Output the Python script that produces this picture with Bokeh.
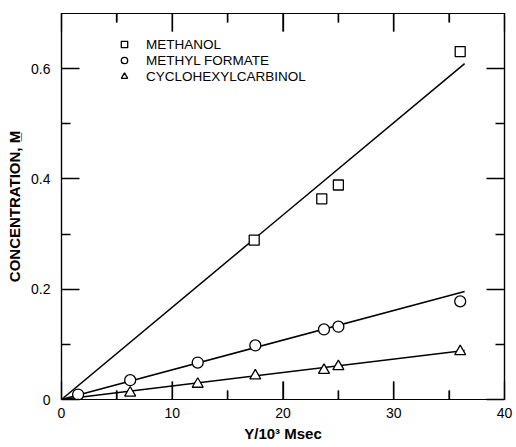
from bokeh.plotting import figure
from bokeh.models import FixedTicker, LinearAxis, Range1d, Legend, LegendItem
from bokeh.embed import file_html
from bokeh.resources import INLINE

# ---- data ----
methanol_x = [17.4, 23.5, 25.0, 36.0]
methanol_y = [0.289, 0.364, 0.389, 0.631]
formate_x = [1.5, 6.2, 12.3, 17.5, 23.7, 25.0, 36.0]
formate_y = [0.009, 0.035, 0.067, 0.098, 0.127, 0.132, 0.178]
carbinol_x = [6.2, 12.3, 17.5, 23.7, 25.0, 36.0]
carbinol_y = [0.012, 0.028, 0.043, 0.053, 0.060, 0.087]

fit_x = [0.0, 36.4]
methanol_fit = [0.0, 0.609]
formate_fit = [0.0, 0.196]
carbinol_fit = [0.0, 0.089]

x_ticks = [0, 10, 20, 30, 40]
x_minor = [5, 15, 25, 35]
y_ticks = [0, 0.2, 0.4, 0.6]
y_minor = [0.1, 0.3, 0.5]
y_tick_labels = ["0", "0.2", "0.4", "0.6"]

FONT = "Liberation Sans"
X0, X1, Y0, Y1 = 0, 40, 0, 0.7
FW, FH = 443, 386

p = figure(frame_width=FW, frame_height=FH,
           x_range=Range1d(X0, X1), y_range=Range1d(Y0, Y1),
           output_backend="svg", toolbar_location=None,
           min_border_left=61, min_border_right=10,
           min_border_top=13, min_border_bottom=44,
           background_fill_color="white", border_fill_color="white")
p.xgrid.visible = False
p.ygrid.visible = False
p.outline_line_color = "black"
p.outline_line_width = 1.2

def style_axis(ax):
    ax.axis_line_color = "black"
    ax.axis_line_width = 1.2
    ax.major_tick_line_color = "black"
    ax.minor_tick_line_color = "black"
    ax.major_tick_line_width = 1.3
    ax.minor_tick_line_width = 1.3
    ax.major_tick_in = 18
    ax.major_tick_out = 0
    ax.minor_tick_in = 9
    ax.minor_tick_out = 0
    ax.major_label_text_color = "black"
    ax.major_label_text_font = FONT
    ax.major_label_text_font_size = "14px"

def ticks_only(ax, ticks):
    ax.major_label_text_font_size = "0px"
    ax.major_label_overrides = {t: "" for t in ticks}
    ax.major_label_standoff = 0

xa = p.xaxis[0]
xa.ticker = FixedTicker(ticks=x_ticks, minor_ticks=x_minor)
style_axis(xa)
xa.major_label_standoff = 8
xa.axis_label = "Y/10³ Msec"
xa.axis_label_text_font = FONT
xa.axis_label_text_font_style = "bold"
xa.axis_label_text_font_size = "15px"
xa.axis_label_text_color = "black"
xa.axis_label_standoff = 4

ya = p.yaxis[0]
ya.ticker = FixedTicker(ticks=y_ticks, minor_ticks=y_minor)
style_axis(ya)
ya.major_label_standoff = 11
ya.major_label_overrides = {t: s for t, s in zip(y_ticks, y_tick_labels)}
ya.axis_label = "CONCENTRATION, M\u0332"
ya.axis_label_text_font = FONT
ya.axis_label_text_font_style = "bold"
ya.axis_label_text_font_size = "15px"
ya.axis_label_text_color = "black"
ya.axis_label_standoff = 5

right = LinearAxis(ticker=FixedTicker(ticks=y_ticks, minor_ticks=y_minor))
style_axis(right)
ticks_only(right, y_ticks)
p.add_layout(right, "right")

top = LinearAxis(ticker=FixedTicker(ticks=x_ticks, minor_ticks=x_minor))
style_axis(top)
ticks_only(top, x_ticks)
p.add_layout(top, "above")

# inward ticks on the bottom/top edges as thin bars (pixel sizes -> data units)
px_x = (X1 - X0) / FW
px_y = (Y1 - Y0) / FH
MAJ, MIN = 18, 9
inner_major = x_ticks[1:-1]
bar_w = 1.4 * px_x
for ticks, length in ((inner_major, MAJ), (x_minor, MIN)):
    h = length * px_y
    p.vbar(x=ticks, bottom=[Y0] * len(ticks), top=[Y0 + h] * len(ticks),
           width=bar_w, fill_color="black", line_color=None)
    p.vbar(x=ticks, bottom=[Y1 - h] * len(ticks), top=[Y1] * len(ticks),
           width=bar_w, fill_color="black", line_color=None)

# fitted lines
for fy in (methanol_fit, formate_fit, carbinol_fit):
    p.line(fit_x, fy, line_color="black", line_width=1.5)

# data markers
r_m = p.scatter(methanol_x, methanol_y, marker="square", size=10,
                fill_color="white", line_color="black", line_width=1.3)
r_f = p.scatter(formate_x, formate_y, marker="circle", size=11,
                fill_color="white", line_color="black", line_width=1.3)
r_c = p.scatter(carbinol_x, carbinol_y, marker="triangle", size=11,
                fill_color="white", line_color="black", line_width=1.3)

legend = Legend(items=[LegendItem(label="METHANOL", renderers=[r_m]),
                       LegendItem(label="METHYL FORMATE", renderers=[r_f]),
                       LegendItem(label="CYCLOHEXYLCARBINOL", renderers=[r_c])],
                location=(53, 315), padding=0, margin=0, spacing=0,
                glyph_width=20, glyph_height=16, label_standoff=12,
                label_text_font=FONT, label_text_font_size="13.5px",
                label_text_color="black", label_height=16,
                border_line_color=None, background_fill_alpha=0)
p.add_layout(legend)

open("out.html", "w").write(file_html(p, INLINE))
